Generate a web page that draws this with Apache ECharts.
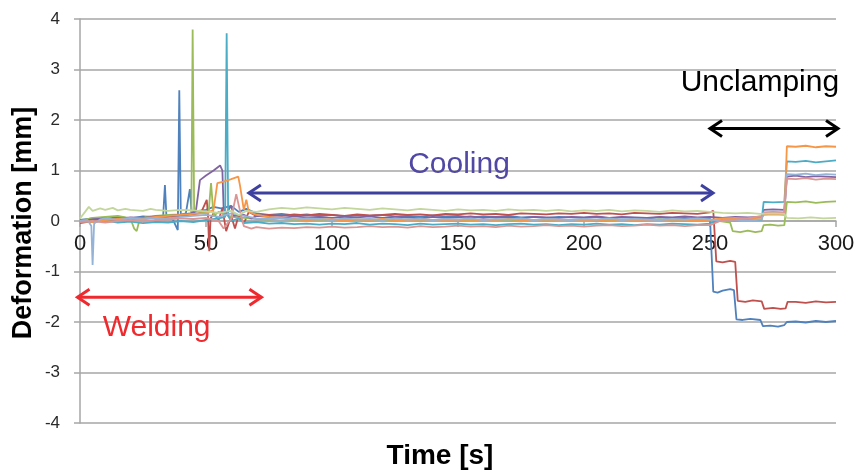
<!DOCTYPE html>
<html>
<head>
<meta charset="utf-8">
<script src="https://cdn.jsdelivr.net/npm/echarts@6/dist/echarts.min.js"></script>
<style>
  html, body { margin: 0; padding: 0; background: #fff; }
  #chart { width: 860px; height: 473px; }
</style>
</head>
<body>
<div id="chart"></div>
<script>
// axis ticks
const xTicks = [0, 50, 100, 150, 200, 250, 300]
const yTicks = [-4, -3, -2, -1, 0, 1, 2, 3, 4]

const seriesNames = ['S1', 'S2', 'S3', 'S4', 'S5', 'S6', 'S7', 'S8', 'S9']
const seriesColors = ['#4F81BD', '#C0504D', '#9BBB59', '#8064A2', '#4BACC6', '#F79646', '#95B3D7', '#D99694', '#C3D69B']

// [time s, deformation mm]
const blue = [[0,0.02],[5,0.05],[10,0.03],[15,0.08],[20,0.05],[25,0.09],[30,0.07],[33,0.1],[33.7,0.71],[34.3,0.09],[36,0.12],[38.8,-0.18],[39.4,2.59],[40,0.12],[42,0.15],[43.6,0.63],[44.3,0.16],[47,0.2],[50,0.22],[53,0.28],[56,0.25],[60,0.3],[63,0.18],[66,0.24],[70,0.15],[75,0.12],[80,0.14],[85,0.11],[90,0.13],[95,0.1],[100,0.12],[105,0.09],[110,0.11],[115,0.1],[120,0.12],[125,0.09],[130,0.1],[135,0.08],[140,0.11],[145,0.09],[150,0.1],[155,0.07],[160,0.09],[165,0.08],[170,0.1],[175,0.07],[180,0.08],[185,0.06],[190,0.08],[195,0.07],[200,0.06],[205,0.08],[210,0.05],[215,0.07],[220,0.06],[225,0.05],[230,0.07],[235,0.05],[240,0.06],[245,0.04],[250,0.05],[251.3,-1.4],[253,-1.42],[255,-1.38],[258,-1.35],[259.5,-1.37],[260.5,-1.95],[263,-1.96],[266,-1.94],[270,-1.96],[271,-2.08],[274,-2.07],[277,-2.09],[279.5,-2.06],[280.5,-2.0],[284,-1.99],[288,-2.01],[292,-1.98],[296,-2.0],[300,-1.98]]
const red = [[0,-0.04],[5,0.0],[10,0.03],[15,0.01],[20,0.04],[25,0.05],[30,0.06],[35,0.08],[40,0.1],[45,0.13],[48,0.16],[50.3,0.42],[50.8,0.1],[51.3,-0.6],[51.8,0.05],[53,0.15],[55,0.02],[56.5,0.25],[58,-0.2],[60,0.1],[61.5,-0.15],[63,0.12],[65,-0.05],[67,0.18],[70,0.1],[75,0.12],[80,0.1],[85,0.13],[90,0.11],[95,0.14],[100,0.12],[105,0.1],[110,0.13],[115,0.11],[120,0.12],[125,0.14],[130,0.12],[135,0.13],[140,0.11],[145,0.14],[150,0.13],[155,0.15],[160,0.13],[165,0.14],[170,0.12],[175,0.15],[180,0.14],[185,0.13],[190,0.15],[195,0.14],[200,0.16],[205,0.14],[210,0.15],[215,0.13],[220,0.16],[225,0.15],[230,0.14],[235,0.16],[240,0.15],[245,0.14],[250,0.17],[251.3,0.2],[252.5,-0.8],[255,-0.82],[258,-0.79],[260,-0.81],[261,-1.58],[264,-1.6],[267,-1.57],[270.5,-1.59],[271.5,-1.74],[275,-1.72],[278,-1.74],[280,-1.73],[280.8,-1.6],[284,-1.6],[288,-1.62],[292,-1.59],[296,-1.61],[300,-1.6]]
const green = [[0,0.0],[5,0.06],[10,0.08],[15,0.1],[20,0.05],[21.5,-0.15],[22.5,-0.2],[23.5,0.0],[26,0.08],[30,0.1],[35,0.12],[40,0.13],[44.2,0.15],[44.7,3.79],[45.3,0.2],[48,0.18],[51,0.15],[52,0.75],[53,0.1],[55,0.18],[58,0.12],[60,0.08],[65,0.06],[70,0.04],[75,0.03],[80,0.05],[85,0.02],[90,0.04],[95,0.03],[100,0.01],[105,0.03],[110,0.02],[115,0.0],[120,0.02],[125,0.01],[130,0.03],[135,0.0],[140,0.02],[145,0.01],[150,0.0],[155,0.02],[160,0.01],[165,0.03],[170,0.0],[175,0.02],[180,0.01],[185,0.0],[190,0.02],[195,0.01],[200,0.03],[205,0.0],[210,0.01],[215,0.02],[220,0.0],[225,0.01],[230,0.03],[235,0.01],[240,0.0],[245,0.02],[250,0.01],[254,0.0],[258,-0.03],[259,-0.2],[262,-0.22],[265,-0.19],[268,-0.22],[270.5,-0.2],[271.3,-0.08],[274,-0.07],[277,-0.09],[279.5,-0.08],[280.5,0.38],[284,0.37],[288,0.39],[292,0.36],[296,0.38],[300,0.39]]
const purple = [[0,0.0],[5,0.03],[10,0.05],[15,0.04],[20,0.07],[25,0.06],[30,0.09],[35,0.1],[40,0.12],[44,0.15],[46,0.2],[47.6,0.81],[50,0.9],[53,1.0],[55.6,1.1],[56.5,1.0],[57,0.25],[58,0.15],[60,0.3],[61,0.1],[65,0.12],[68,0.05],[70,0.1],[75,0.08],[80,0.06],[85,0.09],[90,0.07],[95,0.08],[100,0.06],[105,0.08],[110,0.07],[115,0.09],[120,0.06],[125,0.08],[130,0.07],[135,0.05],[140,0.08],[145,0.06],[150,0.07],[155,0.09],[160,0.06],[165,0.08],[170,0.07],[175,0.05],[180,0.08],[185,0.07],[190,0.06],[195,0.08],[200,0.07],[205,0.09],[210,0.06],[215,0.08],[220,0.07],[225,0.06],[230,0.08],[235,0.07],[240,0.09],[245,0.07],[250,0.08],[255,0.06],[260,0.08],[265,0.07],[270.5,0.08],[271.3,0.22],[275,0.23],[279.5,0.22],[280.5,0.88],[284,0.9],[288,0.87],[292,0.89],[296,0.88],[300,0.87]]
const aqua = [[0,0.0],[5,-0.02],[10,0.01],[15,-0.03],[20,-0.01],[25,-0.04],[30,-0.02],[35,-0.03],[40,0.0],[45,-0.02],[50,0.02],[55,0.05],[57.6,0.08],[58.2,3.72],[58.8,0.1],[60,0.0],[63,0.05],[65,-0.04],[70,-0.02],[75,-0.05],[80,-0.04],[85,-0.06],[90,-0.05],[95,-0.07],[100,-0.05],[105,-0.06],[110,-0.04],[115,-0.07],[120,-0.05],[125,-0.06],[130,-0.08],[135,-0.05],[140,-0.07],[145,-0.06],[150,-0.05],[155,-0.07],[160,-0.06],[165,-0.08],[170,-0.06],[175,-0.05],[180,-0.07],[185,-0.06],[190,-0.08],[195,-0.06],[200,-0.07],[205,-0.05],[210,-0.07],[215,-0.06],[220,-0.08],[225,-0.06],[230,-0.07],[235,-0.05],[240,-0.06],[245,-0.07],[250,-0.05],[252,0.0],[255,0.02],[260,0.01],[265,0.03],[270.5,0.02],[271.3,0.38],[275,0.37],[279.5,0.38],[280.5,1.18],[284,1.17],[288,1.19],[292,1.16],[296,1.18],[300,1.2]]
const orange = [[0,0.0],[5,-0.02],[10,0.02],[15,0.04],[20,0.06],[25,0.05],[30,0.08],[35,0.1],[40,0.12],[45,0.14],[50,0.15],[53,0.22],[54.5,0.75],[57,0.78],[60,0.83],[62.8,0.88],[63.5,0.7],[65,0.22],[66,0.42],[67,0.18],[70,0.12],[75,0.08],[80,0.05],[85,0.04],[90,0.02],[95,0.04],[100,0.03],[105,0.01],[110,0.03],[115,0.02],[120,0.04],[125,0.02],[130,0.01],[135,0.03],[140,0.02],[145,0.0],[150,0.02],[155,0.03],[160,0.01],[165,0.02],[170,0.04],[175,0.02],[180,0.01],[185,0.03],[190,0.02],[195,0.0],[200,0.02],[205,0.01],[210,0.03],[215,0.02],[220,0.0],[225,0.02],[230,0.01],[235,0.03],[240,0.02],[245,0.0],[250,0.02],[255,0.05],[260,0.06],[265,0.05],[270.5,0.06],[271.3,0.12],[275,0.13],[279.5,0.12],[280.5,1.48],[284,1.47],[288,1.49],[292,1.46],[296,1.48],[300,1.47]]
const lightBlue = [[0,0.0],[3,0.02],[4.5,-0.1],[5,-0.87],[5.6,-0.05],[8,0.03],[10,0.05],[15,0.02],[20,0.05],[25,0.03],[30,0.06],[35,0.05],[40,0.08],[45,0.1],[50,0.12],[55,0.08],[60,0.15],[65,0.1],[70,0.05],[75,0.04],[80,0.06],[85,0.03],[90,0.05],[95,0.04],[100,0.02],[105,0.05],[110,0.03],[115,0.04],[120,0.02],[125,0.05],[130,0.03],[135,0.04],[140,0.02],[145,0.04],[150,0.03],[155,0.05],[160,0.02],[165,0.04],[170,0.03],[175,0.05],[180,0.02],[185,0.04],[190,0.03],[195,0.02],[200,0.04],[205,0.03],[210,0.05],[215,0.02],[220,0.04],[225,0.03],[230,0.02],[235,0.04],[240,0.03],[245,0.05],[250,0.03],[255,0.0],[260,0.02],[265,0.01],[270.5,0.03],[271.3,0.17],[275,0.18],[279.5,0.17],[280.5,0.93],[284,0.92],[288,0.94],[292,0.91],[296,0.93],[300,0.92]]
const pink = [[0,-0.02],[5,0.0],[10,-0.03],[15,0.0],[20,0.02],[25,-0.01],[30,0.02],[35,0.03],[40,0.05],[45,0.04],[50,0.06],[55,0.0],[57,-0.15],[60,0.05],[62,0.53],[63.5,0.2],[65,-0.1],[68,-0.15],[70,-0.12],[75,-0.15],[80,-0.13],[85,-0.14],[90,-0.12],[95,-0.13],[100,-0.11],[105,-0.13],[110,-0.12],[115,-0.1],[120,-0.12],[125,-0.11],[130,-0.13],[135,-0.1],[140,-0.12],[145,-0.11],[150,-0.09],[155,-0.11],[160,-0.1],[165,-0.12],[170,-0.09],[175,-0.11],[180,-0.1],[185,-0.08],[190,-0.1],[195,-0.09],[200,-0.11],[205,-0.09],[210,-0.08],[215,-0.1],[220,-0.09],[225,-0.07],[230,-0.09],[235,-0.08],[240,-0.1],[245,-0.08],[250,-0.08],[255,0.02],[260,0.03],[265,0.05],[270.5,0.1],[271.3,0.16],[275,0.17],[279.5,0.16],[280.5,0.84],[284,0.83],[288,0.85],[292,0.82],[296,0.84],[300,0.83]]
const lightGreen = [[0,0.05],[2,0.18],[3.5,0.28],[5,0.2],[8,0.25],[10,0.22],[13,0.26],[15,0.21],[18,0.24],[20,0.22],[25,0.2],[28,0.24],[30,0.22],[35,0.2],[40,0.22],[45,0.21],[50,0.19],[55,0.16],[60,0.2],[63,0.12],[66,0.2],[70,0.18],[75,0.23],[80,0.26],[85,0.24],[90,0.27],[95,0.25],[100,0.23],[105,0.26],[110,0.24],[115,0.22],[120,0.25],[125,0.23],[130,0.21],[135,0.24],[140,0.22],[145,0.2],[150,0.23],[155,0.21],[160,0.22],[165,0.2],[170,0.23],[175,0.21],[180,0.22],[185,0.2],[190,0.22],[195,0.19],[200,0.21],[205,0.2],[210,0.22],[215,0.19],[220,0.21],[225,0.2],[230,0.18],[235,0.21],[240,0.19],[245,0.2],[250,0.18],[255,0.16],[260,0.15],[265,0.16],[270,0.14],[275,0.15],[279.5,0.14],[280.5,0.06],[285,0.05],[290,0.07],[295,0.05],[300,0.06]]

const seriesData = [blue, red, green, purple, aqua, orange, lightBlue, pink, lightGreen]

// phase annotations in data units: arrow start, arrow end, label centre
const phaseNames = ['Welding', 'Cooling', 'Unclamping']
const phaseArrowFrom = [[-1, -1.51], [67, 0.556], [250, 1.83]]
const phaseArrowTo = [[72, -1.51], [251.2, 0.556], [300.8, 1.83]]
const phaseLabelAt = [[30.4, -2.12], [150.4, 1.11], [269.8, 2.74]]
const phaseArrowColors = ['#EE2A2E', '#3E40A0', '#000000']
const phaseTextColors = ['#EE2A2E', '#5048A4', '#000000']

const gridLine = '#A6A6A6'
const font = '"Liberation Sans", Arial, sans-serif'

const chart = echarts.init(document.getElementById('chart'))

const option = {
  animation: false,
  grid: { left: 80, right: 24, top: 19, bottom: 50 },
  xAxis: {
    type: 'value',
    min: xTicks[0],
    max: xTicks[xTicks.length - 1],
    interval: 50,
    axisLine: { onZero: false, lineStyle: { color: gridLine, width: 1.5 } },
    axisTick: { show: true, length: 6, lineStyle: { color: gridLine, width: 1.5 } },
    axisLabel: { fontSize: 22, color: '#1a1a1a', fontFamily: font, margin: 12 },
    splitLine: { show: false }
  },
  yAxis: {
    type: 'value',
    min: yTicks[0],
    max: yTicks[yTicks.length - 1],
    interval: 1,
    axisLine: { show: true, lineStyle: { color: gridLine, width: 1.5 } },
    axisTick: { show: true, length: 6, lineStyle: { color: gridLine, width: 1.5 } },
    axisLabel: { fontSize: 17, color: '#2a2a2a', fontFamily: font, margin: 20 },
    splitLine: { show: true, lineStyle: { color: gridLine, width: 1.5 } }
  },
  series: seriesData.map((d, i) => ({
    name: seriesNames[i],
    type: 'line',
    data: d,
    showSymbol: false,
    symbol: 'none',
    lineStyle: { color: seriesColors[i], width: 1.8 },
    itemStyle: { color: seriesColors[i] }
  }))
}

chart.setOption(option)

const px = p => chart.convertToPixel({ gridIndex: 0 }, p)

// lift the time axis (line, ticks and labels) up to the zero line
const zeroY = px([0, 0])[1]
const bottomY = px([0, yTicks[0]])[1]
chart.setOption({ xAxis: { offset: -(bottomY - zeroY) } })

// annotation arrows and labels, placed through the grid's own scales
const graphics = []
phaseNames.forEach((name, i) => {
  const a = px(phaseArrowFrom[i])
  const b = px(phaseArrowTo[i])
  const c = px(phaseLabelAt[i])
  const stroke = { stroke: phaseArrowColors[i], lineWidth: 3, fill: null, lineJoin: 'miter' }
  graphics.push({ type: 'polyline', shape: { points: [a, b] }, style: stroke, z: 100 })
  graphics.push({ type: 'polyline', shape: { points: [[a[0] + 12, a[1] - 8], a, [a[0] + 12, a[1] + 8]] }, style: stroke, z: 100 })
  graphics.push({ type: 'polyline', shape: { points: [[b[0] - 12, b[1] - 8], b, [b[0] - 12, b[1] + 8]] }, style: stroke, z: 100 })
  graphics.push({
    type: 'text', x: c[0], y: c[1], z: 100,
    style: { text: name, fill: phaseTextColors[i], font: '30px ' + font, align: 'center', verticalAlign: 'middle' }
  })
})

// axis titles
graphics.push({
  type: 'text', x: 440, y: 456, z: 100,
  style: { text: 'Time [s]', fill: '#000', font: 'bold 28px ' + font, align: 'center', verticalAlign: 'middle' }
})
graphics.push({
  type: 'text', x: 24, y: 223, rotation: Math.PI / 2, z: 100,
  style: { text: 'Deformation [mm]', fill: '#000', font: 'bold 27px ' + font, align: 'center', verticalAlign: 'middle' }
})

chart.setOption({ graphic: graphics })
</script>
</body>
</html>
